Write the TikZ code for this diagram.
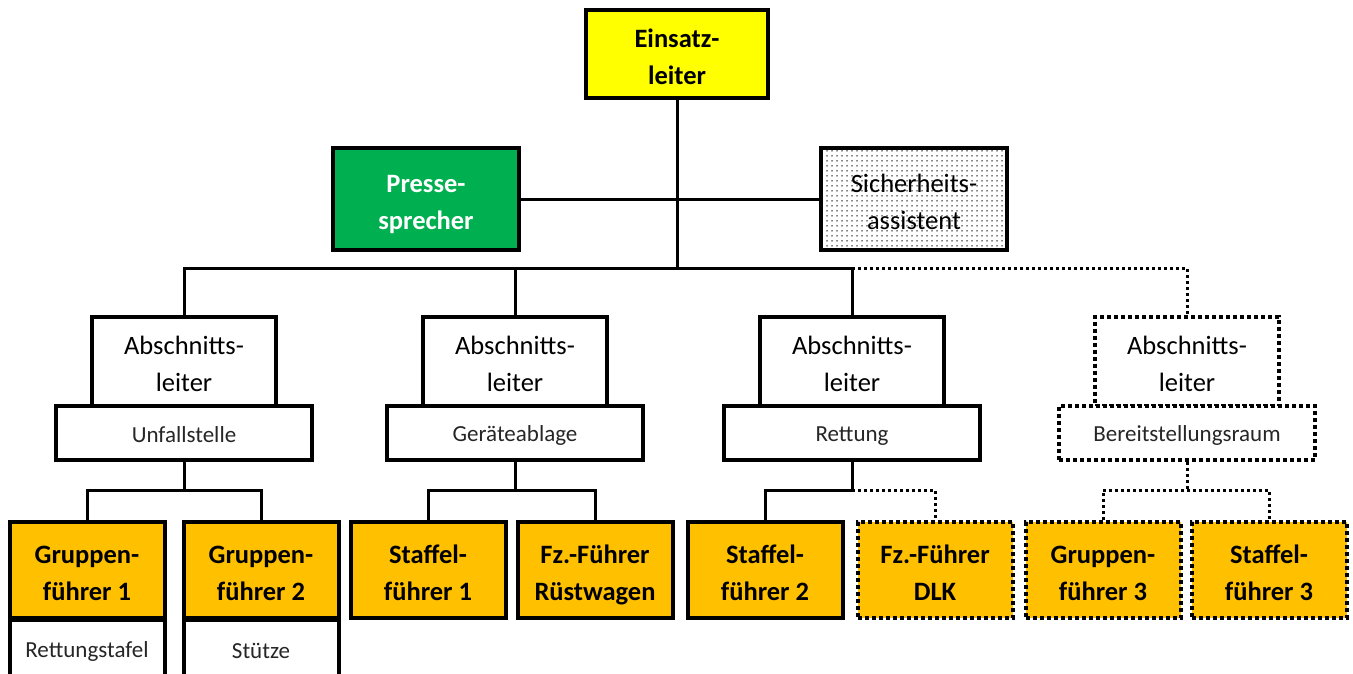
\documentclass[tikz,border=0pt]{standalone}
\usepackage{fontspec}
\setmainfont{Carlito}
\usetikzlibrary{patterns.meta}
\definecolor{elyellow}{RGB}{255,255,0}
\definecolor{prgreen}{RGB}{0,176,80}
\definecolor{fgorange}{RGB}{255,192,0}
\tikzdeclarepattern{name=finedots, type=uncolored,
  bounding box={(0pt,0pt) and (5pt,5pt)}, tile size={(5pt,5pt)},
  code={\fill (2.5pt,2.5pt) circle (0.9pt);}}
\newcommand\bigstrut{\rule[-4pt]{0pt}{32pt}}
\newcommand\smallstrut{\rule[-2pt]{0pt}{22pt}}
\newcommand\twolines[2]{\bigstrut #1\\\bigstrut #2}
\newcommand\oneline[1]{\smallstrut #1}
\begin{document}
\begin{tikzpicture}[x=1pt,y=-1pt,
  box/.style={draw=black, line width=4pt, align=center, inner sep=0pt, text=black},
  big/.style={font=\fontsize{26.5}{37}\selectfont},
  bigb/.style={font=\bfseries\fontsize{26.5}{37}\selectfont},
  small/.style={font=\fontsize{23}{27}\selectfont, text=black!85},
  lead/.style={box, bigb, minimum width=182pt, minimum height=88pt, fill=elyellow},
  side/.style={box, minimum width=186pt, minimum height=102pt},
  abl/.style={box, big, minimum width=184pt, minimum height=89pt, fill=white},
  sect/.style={box, small, minimum width=256pt, minimum height=54pt, fill=white},
  fg/.style={box, bigb, minimum width=155pt, minimum height=96pt, fill=fgorange},
  task/.style={box, small, minimum width=155pt, minimum height=58pt, anchor=north, fill=white},
  dotbox/.style={dash pattern=on 4pt off 3pt},
  conn/.style={line width=3pt},
  dotconn/.style={line width=3pt, dash pattern=on 3pt off 3pt}
]
\useasboundingbox (0,0) rectangle (1353,673);

% top level
\node[lead] (el) at (677,54) {\twolines{Einsatz-}{leiter}};
\node[side, bigb, fill=prgreen, text=white] (pr) at (426,199) {\twolines{Presse-}{sprecher}};
\node[side, big, pattern=finedots, pattern color=black] (sa) at (914,199) {\twolines{Sicherheits-}{assistent}};

% bus coordinates
\coordinate (bus) at (677,268);
\coordinate (mid) at (677,199);

% section leaders
\node[abl] (a1) at (184,361) {\twolines{Abschnitts-}{leiter}};
\node[abl] (a2) at (515,361) {\twolines{Abschnitts-}{leiter}};
\node[abl] (a3) at (852,361) {\twolines{Abschnitts-}{leiter}};
\node[abl, dotbox] (a4) at (1187,361) {\twolines{Abschnitts-}{leiter}};

\node[sect] (s1) at (184,433) {\oneline{Unfallstelle}};
\node[sect] (s2) at (515,433) {\oneline{Geräteablage}};
\node[sect] (s3) at (852,433) {\oneline{Rettung}};
\node[sect, dotbox] (s4) at (1187,433) {\oneline{Bereitstellungsraum}};

% leaders
\node[fg] (g1) at (87,570) {\twolines{Gruppen-}{führer 1}};
\node[fg] (g2) at (261,570) {\twolines{Gruppen-}{führer 2}};
\node[fg] (f1) at (428,570) {\twolines{Staffel-}{führer 1}};
\node[fg] (rw) at (595,570) {\twolines{Fz.-Führer}{Rüstwagen}};
\node[fg] (f2) at (765,570) {\twolines{Staffel-}{führer 2}};
\node[fg, dotbox] (dl) at (935,570) {\twolines{Fz.-Führer}{DLK}};
\node[fg, dotbox] (g3) at (1103,570) {\twolines{Gruppen-}{führer 3}};
\node[fg, dotbox] (f3) at (1269,570) {\twolines{Staffel-}{führer 3}};

\node[task] (t1) at (87,618) {\oneline{Rettungstafel}};
\node[task] (t2) at (261,618) {\oneline{Stütze}};

% connectors top
\draw[conn] (el.south) -- (bus);
\draw[conn] (pr.east) -- (mid) -- (sa.west);
\draw[conn] (a1.north) |- (bus) -| (a3.north);
\draw[conn] (a2.north) -- (a2.north |- bus);
\draw[dotconn] (a3.north |- bus) -| (a4.north);

% group connectors
\coordinate (c1) at (184,490);
\coordinate (c2) at (515,490);
\coordinate (c3) at (852,490);
\coordinate (c4) at (1187,490);
\draw[conn] (s1.south) -- (c1);
\draw[conn] (g1.north) |- (c1) -| (g2.north);
\draw[conn] (s2.south) -- (c2);
\draw[conn] (f1.north) |- (c2) -| (rw.north);
\draw[conn] (s3.south) -- (c3);
\draw[conn] (f2.north) |- (c3);
\draw[dotconn] (c3) -| (dl.north);
\draw[dotconn] (s4.south) -- (c4);
\draw[dotconn] (g3.north) |- (c4) -| (f3.north);
\end{tikzpicture}
\end{document}
